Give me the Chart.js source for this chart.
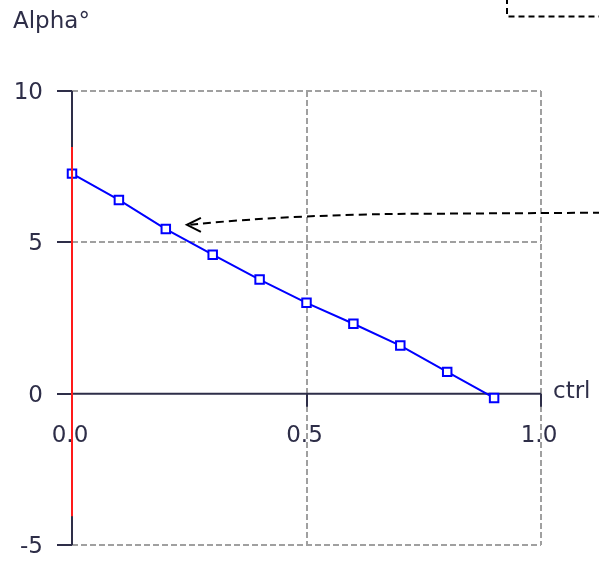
<!DOCTYPE html>
<html>
<head>
<meta charset="utf-8">
<script src="https://cdn.jsdelivr.net/npm/chart.js@4/dist/chart.umd.min.js"></script>
<style>
  html, body { margin: 0; padding: 0; background: #ffffff; }
  canvas { display: block; }
</style>
</head>
<body>
<canvas id="c" width="599" height="561"></canvas>
<script>
// Control input (ctrl) and resulting angle Alpha°
const ctrlValues  = [0.0, 0.1, 0.2, 0.3, 0.4, 0.5, 0.6, 0.7, 0.8, 0.9];
const alphaValues = [7.27, 6.40, 5.44, 4.59, 3.77, 3.00, 2.31, 1.59, 0.72, -0.14];

// Vertical marker at ctrl = 0 spanning the usable range
const markerCtrl  = 0.0;
const markerRange = [-4.05, 8.15];

// Axis ticks
const xTicks = [0.0, 0.5, 1.0];
const yTicks = [-5, 0, 5, 10];
const xTickLabels = ['0.0', '0.5', '1.0'];
const yTickLabels = ['-5', '0', '5', '10'];

const xTitle = 'ctrl';
const yTitle = 'Alpha°';

// Pointer into the curve
const pointerTip  = { x: 0.245, y: 5.58 };
const pointerTail = { y: 5.98 };

const INK  = '#2e2e48';
const GRID = '#a0a0a0';
const FONT = '23px "DejaVu Sans"';

const framePlugin = {
  id: 'frame',
  beforeDatasetsDraw(chart) {
    const { ctx, scales: { x, y } } = chart;
    const x0 = x.getPixelForValue(0), x1 = x.getPixelForValue(1);
    const yMin = y.getPixelForValue(y.min), yMax = y.getPixelForValue(y.max);
    const yZero = y.getPixelForValue(0);
    ctx.save();

    // tick labels
    ctx.font = FONT;
    ctx.fillStyle = INK;
    ctx.textBaseline = 'alphabetic';
    ctx.textAlign = 'right';
    yTicks.forEach((v, i) => ctx.fillText(yTickLabels[i], x0 - 29, y.getPixelForValue(v) + 8));
    ctx.textAlign = 'center';
    xTicks.forEach((v, i) => ctx.fillText(xTickLabels[i], x.getPixelForValue(v) - 2, yZero + 48));
    ctx.textAlign = 'left';
    ctx.fillText(xTitle, x1 + 12, yZero + 4);
    ctx.fillText(yTitle, 13, 28);

    // dashed grid
    ctx.strokeStyle = GRID;
    ctx.lineWidth = 2;
    ctx.setLineDash([6, 3]);
    yTicks.filter(v => v !== 0).forEach(v => {
      const py = Math.round(y.getPixelForValue(v));
      ctx.beginPath(); ctx.moveTo(x0, py); ctx.lineTo(x1, py); ctx.stroke();
    });
    xTicks.filter(v => v !== 0).forEach(v => {
      const px = Math.round(x.getPixelForValue(v));
      ctx.beginPath(); ctx.moveTo(px, yMax); ctx.lineTo(px, yMin); ctx.stroke();
    });

    // axes
    ctx.setLineDash([]);
    ctx.strokeStyle = INK;
    ctx.lineWidth = 2;
    ctx.beginPath();
    ctx.moveTo(x0, yMax); ctx.lineTo(x0, yMin);
    ctx.moveTo(x0, yZero); ctx.lineTo(x1, yZero);
    yTicks.forEach(v => {
      const py = Math.round(y.getPixelForValue(v));
      ctx.moveTo(x0 - 15, py); ctx.lineTo(x0, py);
    });
    xTicks.filter(v => v !== 0).forEach(v => {
      const px = Math.round(x.getPixelForValue(v));
      ctx.moveTo(px, yZero); ctx.lineTo(px, yZero + 13);
    });
    ctx.stroke();
    ctx.restore();
  },
  afterDatasetsDraw(chart) {
    const { ctx, scales: { x, y }, width } = chart;
    const tx = x.getPixelForValue(pointerTip.x), ty = y.getPixelForValue(pointerTip.y);
    const ey = y.getPixelForValue(pointerTail.y);
    ctx.save();
    ctx.strokeStyle = '#000000';
    ctx.lineWidth = 2;

    // dashed pointer line
    ctx.setLineDash([8, 5]);
    ctx.beginPath();
    ctx.moveTo(width + 2, ey);
    ctx.lineTo(440, ey + 1);
    ctx.quadraticCurveTo(300, ey + 1, tx + 2, ty);
    ctx.stroke();

    // open arrow head
    ctx.setLineDash([]);
    ctx.beginPath();
    ctx.moveTo(tx + 14, ty - 7);
    ctx.lineTo(tx, ty);
    ctx.lineTo(tx + 14, ty + 7);
    ctx.stroke();

    // dashed note frame at the upper right
    ctx.setLineDash([6, 4]);
    ctx.beginPath();
    ctx.moveTo(507, -2);
    ctx.lineTo(507, 16.5);
    ctx.lineTo(width + 2, 16.5);
    ctx.stroke();
    ctx.restore();
  }
};

new Chart(document.getElementById('c'), {
  type: 'scatter',
  data: {
    datasets: [
      {
        data: markerRange.map(v => ({ x: markerCtrl, y: v })),
        showLine: true,
        borderColor: '#ff1a1a',
        borderWidth: 2,
        pointRadius: 0,
        clip: false
      },
      {
        data: ctrlValues.map((c, i) => ({ x: c, y: alphaValues[i] })),
        showLine: true,
        borderColor: '#0000ff',
        borderWidth: 2,
        pointStyle: 'rect',
        pointRadius: 6,
        pointBorderWidth: 2,
        pointBorderColor: '#0000ff',
        pointBackgroundColor: '#ffffff',
        clip: false
      }
    ]
  },
  options: {
    responsive: false,
    animation: false,
    devicePixelRatio: 1,
    layout: { padding: { left: 72, right: 58, top: 91, bottom: 16 } },
    plugins: { legend: { display: false }, tooltip: { enabled: false }, title: { display: false } },
    scales: {
      x: { type: 'linear', min: 0, max: 1, display: false },
      y: { type: 'linear', min: -5, max: 10, display: false }
    }
  },
  plugins: [framePlugin]
});
</script>
</body>
</html>
